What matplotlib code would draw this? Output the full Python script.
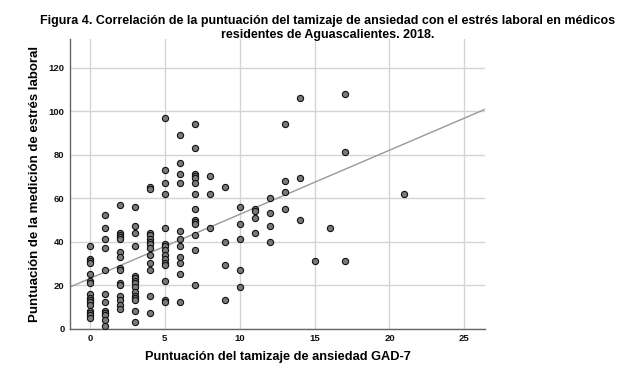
import matplotlib
matplotlib.use("Agg")
import matplotlib.pyplot as plt

# GAD-7 score (x) and work-stress score (y), read column by column
gad7 = ([0] * 16 + [1] * 12 + [2] * 15 + [3] * 15 + [4] * 13 + [5] * 15 + [6] * 11
        + [7] * 14 + [8] * 3 + [9] * 4 + [10] * 5 + [11] * 4 + [12] * 4 + [13] * 4
        + [14] * 3 + [15] + [16] + [17] * 3 + [21])
stress = [38, 32, 31, 30, 25, 22, 21, 16, 14, 13, 12, 11, 8, 7, 6, 5,
          52, 46, 41, 37, 27, 16, 12, 8, 7, 6, 4, 1,
          57, 44, 43, 42, 41, 35, 33, 28, 27, 21, 20, 15, 13, 11, 9,
          56, 47, 44, 38, 24, 23, 22, 21, 19, 17, 15, 14, 13, 8, 3,
          65, 64, 44, 43, 41, 40, 39, 37, 34, 30, 27, 15, 7,
          97, 73, 67, 62, 46, 39, 38, 36, 34, 32, 30, 29, 22, 13, 12,
          89, 76, 71, 67, 45, 41, 38, 33, 30, 25, 12,
          94, 83, 71, 70, 69, 67, 62, 55, 50, 49, 48, 43, 36, 20,
          70, 62, 46,
          65, 40, 29, 13,
          56, 48, 41, 27, 19,
          55, 54, 51, 44,
          60, 53, 47, 40,
          94, 68, 63, 55,
          106, 69, 50,
          31,
          46,
          108, 81, 31,
          62]

# fitted line as shown in the figure
fit_intercept = 23.0
fit_slope = 2.95

x_ticks = [0, 5, 10, 15, 20, 25]
y_ticks = [0, 20, 40, 60, 80, 100, 120]

title = ("Figura 4. Correlación de la puntuación del tamizaje de ansiedad con el estrés laboral en médicos\n"
         "residentes de Aguascalientes. 2018.")
xlabel = "Puntuación del tamizaje de ansiedad GAD-7"
ylabel = "Puntuación de la medición de estrés laboral"

plt.rcParams['font.family'] = ['Liberation Sans', 'DejaVu Sans']

fig = plt.figure(figsize=(6.34, 3.73), dpi=100)
ax = fig.add_axes([0.1104, 0.1193, 0.6551, 0.7753])

xmin, xmax = -1.33, 26.4
ax.set_xlim(xmin, xmax)
ax.set_ylim(0, 133)

ax.set_xticks(x_ticks)
ax.set_yticks(y_ticks)
ax.grid(True, color="#d4d4d4", linewidth=1.0)
ax.set_axisbelow(True)

ax.scatter(gad7, stress, s=20, facecolor="#7a7a7a", edgecolor="#111111",
           linewidth=0.8, zorder=3)
ax.plot([xmin, xmax], [fit_intercept + fit_slope * xmin, fit_intercept + fit_slope * xmax],
        color="#999999", linewidth=1.0, zorder=2)

for side in ["top", "right"]:
    ax.spines[side].set_visible(False)
for side in ["left", "bottom"]:
    ax.spines[side].set_color("#666666")
    ax.spines[side].set_linewidth(1.0)

ax.tick_params(length=0, pad=4, labelsize=6.8, colors="#111111")
for lab in ax.get_xticklabels() + ax.get_yticklabels():
    lab.set_fontweight("bold")

ax.set_xlabel(xlabel, fontsize=9.2, fontweight="bold", labelpad=6)
ax.set_ylabel(ylabel, fontsize=9.5, fontweight="bold", labelpad=5)

fig.text(0.517, 0.925, title, ha="center", va="center", fontsize=9,
         fontweight="bold", linespacing=1.12)

fig.savefig("out.png", dpi=100)
